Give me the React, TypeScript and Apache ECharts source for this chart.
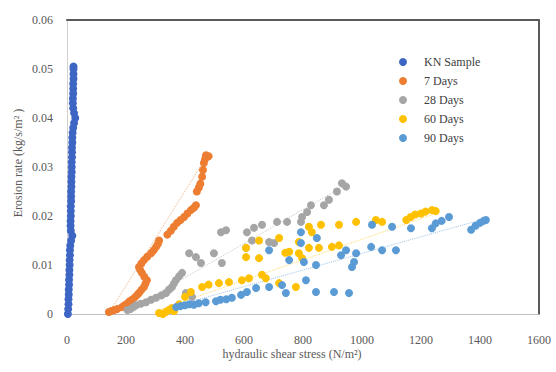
import React, { useEffect, useRef } from "react";
import * as echarts from "echarts";

const seriesNames = ["KN Sample", "7 Days", "28 Days", "60 Days", "90 Days"];
const seriesColors = ["#3d66c4", "#ed7d31", "#a5a5a5", "#ffc000", "#5b9bd5"];

const xTicks = { min: 0, max: 1600, interval: 200 };
const yTicks = { min: 0, max: 0.06, interval: 0.01 };

const knSample: number[][] = [
  [3, 0], [4, 0.001], [5, 0.002], [5, 0.003], [6, 0.004], [6, 0.005], [7, 0.006], [7, 0.007],
  [8, 0.008], [8, 0.009], [9, 0.01], [9, 0.011], [10, 0.012], [10, 0.013], [11, 0.014],
  [14, 0.015], [18, 0.016], [13, 0.017], [12, 0.018], [12, 0.019], [13, 0.02], [13, 0.021],
  [13, 0.022], [14, 0.023], [14, 0.024], [14, 0.025], [15, 0.026], [15, 0.027], [15, 0.028],
  [16, 0.029], [16, 0.03], [16, 0.031], [17, 0.032], [17, 0.033], [17, 0.034], [18, 0.035],
  [18, 0.036], [19, 0.037], [21, 0.038], [24, 0.039], [28, 0.04], [24, 0.041], [21, 0.042],
  [20, 0.043], [20, 0.044], [21, 0.045], [21, 0.046], [21, 0.047], [22, 0.048], [22, 0.049],
  [22, 0.05], [22, 0.0505],
];

const days7: number[][] = [
  [142, 0.0004], [150, 0.0006], [160, 0.0008], [170, 0.001], [186, 0.0014], [195, 0.0018],
  [205, 0.0022], [212, 0.0026], [220, 0.0029], [230, 0.0034], [238, 0.0039], [244, 0.0043],
  [252, 0.0049], [261, 0.0055], [266, 0.0062], [271, 0.0069], [262, 0.0076], [254, 0.0084],
  [248, 0.009], [244, 0.0096], [252, 0.0103], [261, 0.011], [272, 0.0117], [285, 0.0124],
  [294, 0.013], [302, 0.0137], [308, 0.0143], [312, 0.015], [340, 0.0162], [352, 0.017],
  [362, 0.0178], [373, 0.0186], [385, 0.0192], [397, 0.0198], [408, 0.0205], [420, 0.0212],
  [430, 0.0217], [437, 0.0222], [440, 0.025], [447, 0.0258], [452, 0.0266], [458, 0.028],
  [461, 0.0294], [464, 0.0308], [468, 0.0316], [471, 0.0324], [480, 0.0322],
];

const days28: number[][] = [
  [205, 0.0008], [215, 0.001], [225, 0.0014], [234, 0.0018], [250, 0.0021], [268, 0.0024],
  [285, 0.0029], [302, 0.0033], [320, 0.0038], [336, 0.0043], [346, 0.005], [356, 0.0055],
  [362, 0.0062], [369, 0.0069], [380, 0.0077], [390, 0.0084], [403, 0.0043], [424, 0.0035],
  [414, 0.0124], [437, 0.0116], [454, 0.0104], [498, 0.0124], [525, 0.0104], [522, 0.0167],
  [539, 0.0171], [607, 0.0135], [610, 0.0167], [627, 0.015], [634, 0.0176], [661, 0.0182],
  [685, 0.0147], [702, 0.0145], [712, 0.0188], [746, 0.0188], [793, 0.0188], [797, 0.0198],
  [814, 0.0208], [827, 0.0222], [871, 0.0222], [888, 0.0233], [915, 0.025], [932, 0.0267],
  [946, 0.026],
];

const days60: number[][] = [
  [312, 0.0002], [325, 0], [335, 0.0004], [346, 0.0008], [355, 0.0012], [363, 0.0006],
  [380, 0.002], [400, 0.0035], [420, 0.0045], [458, 0.0055], [480, 0.006], [515, 0.0063],
  [549, 0.0065], [593, 0.0069], [607, 0.0116], [607, 0.0135], [617, 0.0073], [651, 0.015],
  [651, 0.0114], [661, 0.008], [674, 0.0073], [719, 0.0063], [719, 0.0155], [740, 0.0125],
  [753, 0.0127], [776, 0.0055], [786, 0.0147], [786, 0.0124], [797, 0.0114], [820, 0.0178],
  [830, 0.0167], [820, 0.0135], [854, 0.0135], [861, 0.0182], [898, 0.0137], [922, 0.014],
  [922, 0.0182], [980, 0.0188], [1047, 0.0192], [1068, 0.0188], [1150, 0.0192], [1165, 0.0198],
  [1180, 0.0203], [1200, 0.0205], [1215, 0.0209], [1237, 0.0212], [1250, 0.021],
];

const days90: number[][] = [
  [370, 0.0014], [385, 0.0016], [400, 0.0018], [415, 0.002], [430, 0.0019], [447, 0.0022],
  [470, 0.0024], [505, 0.0026], [520, 0.0029], [540, 0.003], [559, 0.0033], [590, 0.0039],
  [610, 0.0045], [641, 0.0053], [685, 0.0055], [729, 0.0059], [742, 0.0043], [810, 0.0069],
  [844, 0.0045], [905, 0.0045], [956, 0.0043], [685, 0.013], [753, 0.011], [803, 0.0106],
  [844, 0.01], [793, 0.0145], [847, 0.0155], [793, 0.0167], [929, 0.012], [946, 0.013],
  [966, 0.0096], [973, 0.0106], [980, 0.0124], [1031, 0.0137], [1068, 0.013], [1115, 0.013],
  [1034, 0.0182], [1102, 0.0178], [1166, 0.0175], [1237, 0.0175], [1250, 0.0185],
  [1270, 0.019], [1295, 0.0198], [1370, 0.0172], [1385, 0.018], [1400, 0.0186],
  [1412, 0.019], [1420, 0.0192],
];

const trend7: number[][] = [[140, 0], [480, 0.0328]];
const trend28: number[][] = [[200, 0.0005], [950, 0.0265]];
const trend60: number[][] = [[310, 0.0008], [1250, 0.0205]];
const trend90: number[][] = [[360, 0.0015], [1420, 0.0195]];

const FONT = "Liberation Serif";

export default function App() {
  const ref = useRef<HTMLDivElement>(null);
  useEffect(() => {
    if (!ref.current) return;
    const chart = echarts.init(ref.current, undefined, { renderer: "svg" });
    const scatterData = [knSample, days7, days28, days60, days90];
    const trends = [null, trend7, trend28, trend60, trend90];
    const series: any[] = [];
    trends.forEach((t, i) => {
      if (!t) return;
      series.push({
        name: seriesNames[i] + " trend",
        type: "line",
        data: t,
        symbol: "none",
        silent: true,
        lineStyle: { color: seriesColors[i], width: 1, type: "dotted", opacity: 0.6 },
        z: 1,
      });
    });
    scatterData.forEach((d, i) => {
      series.push({
        name: seriesNames[i],
        type: "scatter",
        data: d,
        symbolSize: 8,
        itemStyle: { color: seriesColors[i], opacity: 1 },
        z: 2,
      });
    });
    chart.setOption({
      animation: false,
      backgroundColor: "#ffffff",
      grid: { left: 67, right: 17, top: 20, bottom: 58 },
      legend: {
        data: seriesNames,
        orient: "vertical",
        left: 394,
        top: 51,
        icon: "circle",
        itemWidth: 8,
        itemHeight: 8,
        itemGap: 7,
        formatter: "{a|{name}}",
        textStyle: {
          fontFamily: FONT,
          fontSize: 12,
          color: "#404040",
          rich: {
            a: {
              fontFamily: FONT,
              fontSize: 12,
              color: "#404040",
              padding: [0, 0, 0, 12],
            },
          },
        },
      },
      xAxis: [
        {
          type: "value",
          ...xTicks,
          axisLine: { show: true, lineStyle: { color: "#bfbfbf", width: 1 } },
          axisTick: { show: false },
          splitLine: { show: false },
          axisLabel: {
            fontFamily: FONT,
            fontSize: 12,
            color: "#595959",
            margin: 20,
            formatter: (v: number) => String(v),
          },
        },
        {
          type: "value",
          position: "top",
          ...xTicks,
          axisLine: { show: true, onZero: false, lineStyle: { color: "#595959", width: 2 } },
          axisTick: { show: false },
          splitLine: { show: false },
          axisLabel: { show: false },
        },
      ],
      yAxis: [
        {
          type: "value",
          ...yTicks,
          axisLine: { show: true, lineStyle: { color: "#d0d0d0", width: 1 } },
          axisTick: { show: false },
          splitLine: { show: false },
          axisLabel: {
            fontFamily: FONT,
            fontSize: 12,
            color: "#595959",
            margin: 14,
            formatter: (v: number) => String(Math.round(v * 100) / 100),
          },
        },
        {
          type: "value",
          position: "right",
          ...yTicks,
          axisLine: { show: true, onZero: false, lineStyle: { color: "#595959", width: 2 } },
          axisTick: { show: false },
          splitLine: { show: false },
          axisLabel: { show: false },
        },
      ],
      graphic: [
        {
          type: "text",
          x: 18,
          y: 163,
          rotation: Math.PI / 2,
          style: {
            text: "Erosion rate (kg/s/m² )",
            font: "12px Liberation Serif",
            fill: "#595959",
            textAlign: "center",
            textVerticalAlign: "middle",
          },
        },
        {
          type: "text",
          x: 292,
          y: 354,
          style: {
            text: "hydraulic shear stress (N/m²)",
            font: "12px Liberation Serif",
            fill: "#595959",
            textAlign: "center",
            textVerticalAlign: "middle",
          },
        },
      ],
      series,
    });
    return () => chart.dispose();
  }, []);
  return <div ref={ref} style={{ width: 556, height: 372, position: "absolute", left: 0, top: 0 }} />;
}
